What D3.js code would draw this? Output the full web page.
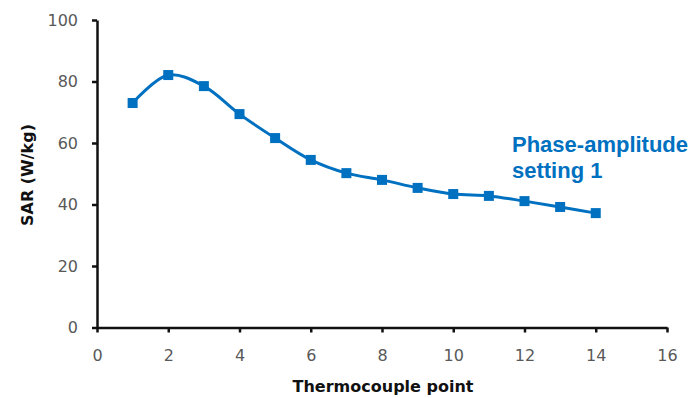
<!DOCTYPE html>
<html>
<head>
<meta charset="utf-8">
<script src="https://cdn.jsdelivr.net/npm/d3@7"></script>
<style>
  html, body { margin: 0; padding: 0; background: #fff; }
  svg { display: block; }
</style>
</head>
<body>
<svg id="chart" width="694" height="398"></svg>
<script>
// Thermocouple positions and measured SAR (W/kg)
const points = [1, 2, 3, 4, 5, 6, 7, 8, 9, 10, 11, 12, 13, 14];
const sar = [73.0, 82.1, 78.5, 69.4, 61.6, 54.5, 50.2, 48.0, 45.4, 43.4, 42.8, 41.1, 39.2, 37.2];
const xTicks = [0, 2, 4, 6, 8, 10, 12, 14, 16];
const yTicks = [0, 20, 40, 60, 80, 100];
const seriesLabel = ["Phase-amplitude", "setting 1"];

const blue = "#0070c0";
const svg = d3.select("#chart");

const x = d3.scaleLinear().domain([0, 16]).range([97, 667]);
const y = d3.scaleLinear().domain([0, 100]).range([327.5, 20]);

// y axis
const yAxis = svg.append("g")
  .attr("transform", `translate(${x(0)},0)`)
  .call(d3.axisLeft(y).tickValues(yTicks).tickSize(5).tickPadding(14).tickSizeOuter(0));
// x axis
const xAxis = svg.append("g")
  .attr("transform", `translate(0,${y(0)})`)
  .call(d3.axisBottom(x).tickValues(xTicks).tickSize(5).tickPadding(17).tickSizeOuter(0));

[yAxis, xAxis].forEach(g => {
  g.select(".domain").attr("stroke", "#111").attr("stroke-width", 2.5);
  g.selectAll(".tick line").attr("stroke", "#111").attr("stroke-width", 2.5);
  g.selectAll(".tick text")
    .attr("fill", "#595959")
    .style("font-family", "'DejaVu Sans', sans-serif")
    .style("font-size", "16px");
});

// axis titles
svg.append("text")
  .attr("x", 383).attr("y", 392)
  .attr("text-anchor", "middle")
  .attr("fill", "#111")
  .style("font-family", "'DejaVu Sans', sans-serif")
  .style("font-weight", "bold")
  .style("font-size", "16px")
  .text("Thermocouple point");

svg.append("text")
  .attr("transform", "translate(33,175) rotate(-90)")
  .attr("text-anchor", "middle")
  .attr("fill", "#111")
  .style("font-family", "'DejaVu Sans', sans-serif")
  .style("font-weight", "bold")
  .style("font-size", "16px")
  .text("SAR (W/kg)");

// smoothed series line
const data = points.map((p, i) => ({ p, v: sar[i] }));
const line = d3.line()
  .x(d => x(d.p))
  .y(d => y(d.v))
  .curve(d3.curveCatmullRom.alpha(0.5));

svg.append("path")
  .datum(data)
  .attr("d", line)
  .attr("fill", "none")
  .attr("stroke", blue)
  .attr("stroke-width", 3);

// square markers
const m = 10;
svg.append("g").selectAll("rect")
  .data(data)
  .join("rect")
  .attr("x", d => x(d.p) - m / 2)
  .attr("y", d => y(d.v) - m / 2)
  .attr("width", m)
  .attr("height", m)
  .attr("fill", blue);

// series annotation
svg.append("text")
  .attr("x", 512).attr("y", 152)
  .attr("fill", blue)
  .style("font-family", "'Liberation Sans', Arial, sans-serif")
  .style("font-weight", "bold")
  .style("font-size", "22px")
  .selectAll("tspan")
  .data(seriesLabel)
  .join("tspan")
  .attr("x", 512)
  .attr("dy", (d, i) => i === 0 ? 0 : 26)
  .text(d => d);
</script>
</body>
</html>
